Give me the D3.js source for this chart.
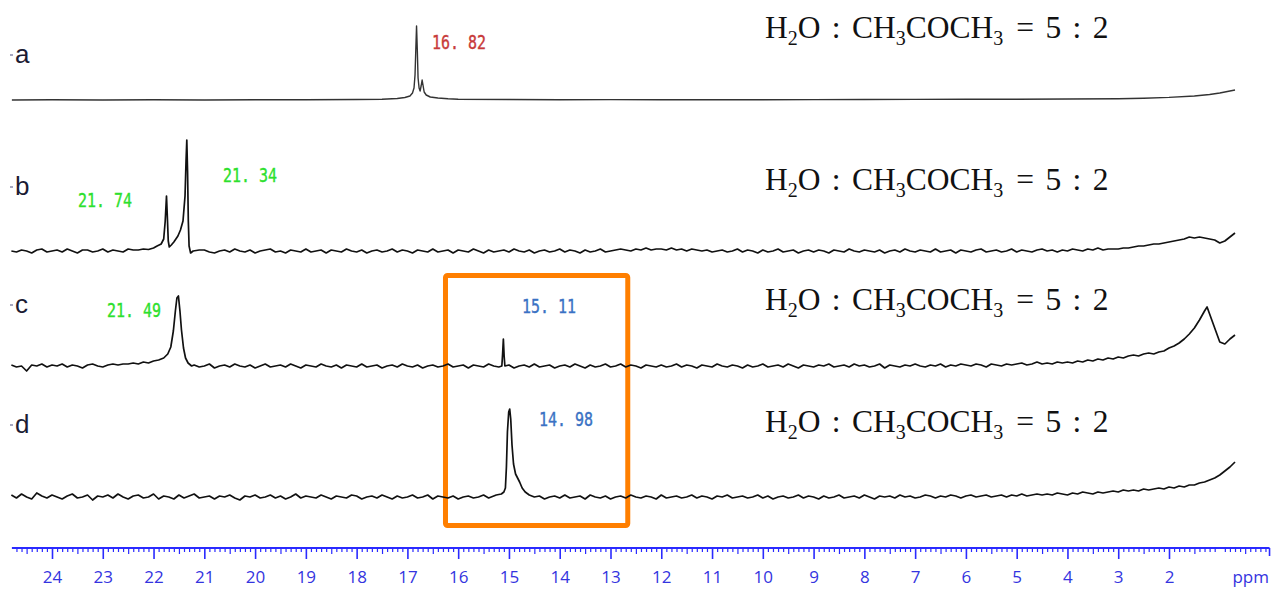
<!DOCTYPE html>
<html><head><meta charset="utf-8">
<script src="https://cdn.jsdelivr.net/npm/d3@7"></script>
<style>body{margin:0;background:#fff}svg{display:block}</style>
</head><body>
<svg id="chart" width="1274" height="590"></svg>
<script>
// ---------------- data ----------------
const traceNames = ["a", "b", "c", "d"];
const majorTicks = [24,23,22,21,20,19,18,17,16,15,14,13,12,11,10,9,8,7,6,5,4,3,2];
const unitLabel = "ppm";
const highlightRange = [16.25, 12.66];
const peakLabelsA = [16.82];
const peakLabelsB = [21.74, 21.34];
const peakLabelsC = [21.49, 15.11];
const peakLabelsD = [14.98];

const specA = [[24.79,0],[24,0.3],[23,0],[22,0.2],[21,0],[20,0.3],[19,0.2],[18,0.5],[17.5,0.8],[17.2,1.5],[17.05,2.5],[16.95,4],[16.9,7],[16.87,12],[16.85,25],[16.835,50],[16.82,74],[16.805,50],[16.79,22],[16.77,12],[16.75,9],[16.73,14],[16.71,20],[16.69,14],[16.67,8],[16.63,5],[16.55,3],[16.4,2],[16.2,1.2],[16,0.8],[15,0.5],[14,0.3],[13,0.4],[12,0.2],[11,0.3],[10,0.3],[9,0.4],[8,0.5],[7,0.6],[6,0.7],[5,0.8],[4,1],[3,1.3],[2.5,1.8],[2,2.6],[1.5,4],[1.2,5.5],[1,7],[0.85,8.5],[0.7,10]];

const specB = [[24.8,0],[24.7,-1],[24.6,1],[24.5,0],[24.4,-2],[24.3,1],[24.2,2],[24.1,-1],[24.0,0],[23.9,1],[23.8,-1],[23.7,2],[23.6,0],[23.5,-2],[23.4,1],[23.3,1],[23.2,-1],[23.1,0],[23.0,2],[22.9,-1],[22.8,1],[22.7,0],[22.6,-1],[22.5,2],[22.4,1],
[22.3,1],[22.2,2],[22.1,1.5],[22.0,3],[21.93,5],[21.85,7],[21.8,12],[21.77,30],[21.745,55],[21.725,30],[21.71,10],[21.69,4],[21.65,6],[21.6,9],[21.52,15],[21.47,21],[21.42,30],[21.38,55],[21.36,90],[21.345,111],[21.33,80],[21.315,30],[21.3,5],[21.27,-2],[21.22,0],[21.1,1],
[21.0,1],[20.9,-1],[20.8,-2],[20.7,0],[20.6,1],[20.5,-1],[20.4,2],[20.3,0],[20.2,-1],[20.1,1],
[20.0,-2],[19.9,0],[19.8,1],[19.7,2],[19.6,-1],[19.5,0],[19.4,-2],[19.3,1],[19.2,0],[19.1,-1],
[19.0,2],[18.9,-1],[18.8,0],[18.7,1],[18.6,-2],[18.5,1],[18.4,0],[18.3,-1],[18.2,2],[18.1,0],
[18.0,-1],[17.9,1],[17.8,-2],[17.7,0],[17.6,1],[17.5,-1],[17.4,0],[17.3,2],[17.2,-1],[17.1,1],
[17.0,0],[16.9,-2],[16.8,1],[16.7,0],[16.6,-1],[16.5,2],[16.4,-1],[16.3,0],[16.2,1],[16.1,-2],
[16.0,1],[15.9,0],[15.8,-1],[15.7,2],[15.6,0],[15.5,-2],[15.4,1],[15.3,-1],[15.2,0],[15.1,1],
[15.0,-1],[14.9,2],[14.8,0],[14.7,-1],[14.6,1],[14.5,-2],[14.4,0],[14.3,1],[14.2,-1],[14.1,0],
[14.0,2],[13.9,-1],[13.8,1],[13.7,0],[13.6,-2],[13.5,1],[13.4,-1],[13.3,0],[13.2,2],[13.1,-1],
[13.0,0],[12.9,1],[12.8,2],[12.7,1],[12.6,0],[12.5,2],[12.4,1],[12.3,3],[12.2,1],[12.1,2],
[12.0,2],[11.9,1],[11.8,3],[11.7,1],[11.6,2],[11.5,0],[11.4,2],[11.3,1],[11.2,0],[11.1,1],
[11.0,-1],[10.9,0],[10.8,1],[10.7,-1],[10.6,0],[10.5,2],[10.4,-1],[10.3,1],[10.2,0],[10.1,-2],
[10.0,1],[9.9,-1],[9.8,0],[9.7,2],[9.6,-1],[9.5,0],[9.4,1],[9.3,-2],[9.2,0],[9.1,1],
[9.0,-1],[8.9,1],[8.8,0],[8.7,-2],[8.6,1],[8.5,0],[8.4,-1],[8.3,2],[8.2,0],[8.1,-1],
[8.0,1],[7.9,0],[7.8,-1],[7.7,1],[7.6,-2],[7.5,0],[7.4,1],[7.3,-1],[7.2,2],[7.1,0],
[7.0,-1],[6.9,1],[6.8,0],[6.7,-1],[6.6,2],[6.5,-1],[6.4,0],[6.3,1],[6.2,-2],[6.1,1],
[6.0,0],[5.9,-1],[5.8,1],[5.7,2],[5.6,-1],[5.5,0],[5.4,1],[5.3,-1],[5.2,0],[5.1,2],
[5.0,-1],[4.9,1],[4.8,0],[4.7,-1],[4.6,1],[4.5,2],[4.4,0],[4.3,1],[4.2,-1],[4.1,1],
[4.0,0],[3.9,2],[3.8,1],[3.7,0],[3.6,2],[3.5,1],[3.4,3],[3.3,1],[3.2,2],[3.1,2],
[3.0,2],[2.9,3],[2.8,3],[2.7,4],[2.6,5],[2.5,5],[2.4,6],[2.3,7],[2.2,7],[2.1,8],
[2.0,9],[1.9,10],[1.8,11],[1.7,12],[1.6,14],[1.5,13],[1.4,14],[1.3,13],[1.2,12],[1.1,11],
[1.0,8],[0.9,10],[0.8,14],[0.7,18]];

const specC = [[24.8,1],[24.7,-1],[24.6,0],[24.5,-5],[24.4,1],[24.3,0],[24.2,2],[24.1,-1],[24.0,1],[23.9,0],[23.8,2],[23.7,-1],[23.6,1],[23.5,0],[23.4,-2],[23.3,1],[23.2,2],[23.1,0],[23.0,-1],[22.9,1],[22.8,2],[22.7,1],[22.6,2],
[22.5,2],[22.4,3],[22.3,2],[22.2,4],[22.1,3],[22.0,5],[21.9,6],[21.8,8],[21.72,12],[21.66,19],[21.61,35],[21.57,55],[21.54,68],[21.51,70],[21.48,55],[21.45,36],[21.41,18],[21.37,8],[21.32,3],[21.25,0],
[21.2,1],[21.1,-1],[21.0,0],[20.9,2],[20.8,-2],[20.7,0],[20.6,1],[20.5,-1],[20.4,2],[20.3,0],
[20.2,-1],[20.1,1],[20.0,-2],[19.9,0],[19.8,2],[19.7,-1],[19.6,0],[19.5,1],[19.4,-1],[19.3,2],
[19.2,0],[19.1,-2],[19.0,1],[18.9,0],[18.8,-1],[18.7,2],[18.6,0],[18.5,-1],[18.4,1],[18.3,-2],
[18.2,1],[18.1,0],[18.0,-1],[17.9,2],[17.8,-1],[17.7,0],[17.6,1],[17.5,-2],[17.4,0],[17.3,1],
[17.2,-1],[17.1,2],[17.0,0],[16.9,-1],[16.8,1],[16.7,-2],[16.6,0],[16.5,1],[16.4,-1],[16.3,0],
[16.2,2],[16.1,-1],[16.0,0],[15.9,1],[15.8,-2],[15.7,1],[15.6,0],[15.5,-1],[15.4,2],[15.3,0],
[15.2,-1],[15.14,0],[15.125,12],[15.11,27],[15.095,10],[15.08,0],
[15.0,1],[14.9,-2],[14.8,0],[14.7,1],[14.6,-1],[14.5,2],[14.4,-1],[14.3,0],[14.2,1],[14.1,-2],
[14.0,0],[13.9,1],[13.8,-1],[13.7,2],[13.6,0],[13.5,-2],[13.4,1],[13.3,-1],[13.2,0],[13.1,2],
[13.0,-1],[12.9,0],[12.8,2],[12.7,-1],[12.6,1],[12.5,0],[12.4,-2],[12.3,1],[12.2,0],[12.1,-1],
[12.0,1],[11.9,-1],[11.8,0],[11.7,2],[11.6,-1],[11.5,1],[11.4,0],[11.3,-2],[11.2,1],[11.1,0],
[11.0,-1],[10.9,2],[10.8,0],[10.7,-1],[10.6,1],[10.5,0],[10.4,-2],[10.3,1],[10.2,-1],[10.1,0],
[10.0,2],[9.9,-1],[9.8,0],[9.7,1],[9.6,-1],[9.5,2],[9.4,0],[9.3,-2],[9.2,1],[9.1,0],
[9.0,-1],[8.9,1],[8.8,0],[8.7,2],[8.6,-1],[8.5,0],[8.4,1],[8.3,-1],[8.2,2],[8.1,0],
[8.0,1],[7.9,-1],[7.8,0],[7.7,2],[7.6,-2],[7.5,1],[7.4,0],[7.3,-1],[7.2,1],[7.1,0],
[7.0,2],[6.9,0],[6.8,-1],[6.7,1],[6.6,0],[6.5,2],[6.4,-1],[6.3,1],[6.2,0],[6.1,2],
[6.0,1],[5.9,0],[5.8,2],[5.7,1],[5.6,-1],[5.5,2],[5.4,1],[5.3,0],[5.2,2],[5.1,1],
[5.0,2],[4.9,3],[4.8,1],[4.7,2],[4.6,4],[4.5,2],[4.4,3],[4.3,2],[4.2,4],[4.1,3],
[4.0,4],[3.9,3],[3.8,5],[3.7,4],[3.6,6],[3.5,5],[3.4,7],[3.3,6],[3.2,8],[3.1,7],
[3.0,9],[2.9,8],[2.8,10],[2.7,11],[2.6,10],[2.5,12],[2.4,13],[2.3,12],[2.2,14],[2.1,15],
[2.0,18],[1.9,20],[1.8,23],[1.7,27],[1.6,32],[1.5,38],[1.4,46],[1.3,55],[1.25,59],[1.2,52],[1.1,38],
[1.0,24],[0.9,22],[0.8,27],[0.7,31]];

const specD = [[24.8,2],[24.7,-1],[24.6,3],[24.5,0],[24.4,-2],[24.3,4],[24.2,1],[24.1,-1],[24.0,2],[23.9,0],
[23.8,-2],[23.7,1],[23.6,3],[23.5,-1],[23.4,0],[23.3,2],[23.2,-3],[23.1,1],[23.0,0],[22.9,2],
[22.8,-1],[22.7,3],[22.6,0],[22.5,-2],[22.4,1],[22.3,2],[22.2,-1],[22.1,0],[22.0,3],[21.9,-2],
[21.8,1],[21.7,0],[21.6,-2],[21.5,2],[21.4,-1],[21.3,1],[21.2,3],[21.1,-1],[21.0,0],[20.9,1],
[20.8,-2],[20.7,1],[20.6,0],[20.5,2],[20.4,-1],[20.3,-3],[20.2,1],[20.1,0],[20.0,2],[19.9,-1],
[19.8,0],[19.7,2],[19.6,-1],[19.5,1],[19.4,-2],[19.3,0],[19.2,3],[19.1,-1],[19.0,1],[18.9,0],
[18.8,-1],[18.7,2],[18.6,0],[18.5,-2],[18.4,1],[18.3,0],[18.2,-1],[18.1,2],[18.0,1],[17.9,-2],
[17.8,0],[17.7,1],[17.6,-1],[17.5,2],[17.4,0],[17.3,-2],[17.2,1],[17.1,-1],[17.0,0],[16.9,2],
[16.8,-1],[16.7,0],[16.6,2],[16.5,-2],[16.4,1],[16.3,0],[16.2,-1],[16.1,1],[16.0,-2],[15.9,0],
[15.8,1],[15.7,-1],[15.6,0],[15.5,2],[15.4,-1],[15.3,1],
[15.25,2],[15.15,3],[15.1,5],[15.07,9],[15.05,30],[15.03,65],[15.005,85],[14.985,88],[14.965,78],[14.94,52],[14.91,33],[14.87,23],[14.83,19],[14.79,15],[14.74,9],[14.68,5],[14.6,2],[14.5,0],
[14.4,1],[14.3,-2],[14.2,0],[14.1,1],[14.0,-1],[13.9,2],[13.8,-1],[13.7,0],[13.6,1],[13.5,-2],
[13.4,2],[13.3,0],[13.2,-1],[13.1,1],[13.0,-2],[12.9,0],[12.8,1],[12.7,-1],[12.6,2],[12.5,0],
[12.4,-1],[12.3,1],[12.2,0],[12.1,-2],[12.0,2],[11.9,-1],[11.8,0],[11.7,1],[11.6,-1],[11.5,0],
[11.4,2],[11.3,-1],[11.2,1],[11.1,0],[11.0,-2],[10.9,1],[10.8,0],[10.7,2],[10.6,-1],[10.5,0],
[10.4,1],[10.3,-1],[10.2,0],[10.1,2],[10.0,-1],[9.9,1],[9.8,-2],[9.7,0],[9.6,1],[9.5,-1],
[9.4,0],[9.3,2],[9.2,-1],[9.1,1],[9.0,0],[8.9,-2],[8.8,1],[8.7,-1],[8.6,0],[8.5,2],
[8.4,-1],[8.3,0],[8.2,1],[8.1,-1],[8.0,2],[7.9,0],[7.8,-2],[7.7,1],[7.6,0],[7.5,1],
[7.4,-1],[7.3,2],[7.2,0],[7.1,1],[7.0,-1],[6.9,0],[6.8,2],[6.7,1],[6.6,-1],[6.5,1],
[6.4,0],[6.3,2],[6.2,1],[6.1,-1],[6.0,1],[5.9,2],[5.8,0],[5.7,1],[5.6,2],[5.5,0],
[5.4,1],[5.3,2],[5.2,0],[5.1,2],[5.0,1],[4.9,3],[4.8,1],[4.7,2],[4.6,3],[4.5,2],
[4.4,3],[4.3,2],[4.2,4],[4.1,3],[4.0,2],[3.9,4],[3.8,3],[3.7,5],[3.6,4],[3.5,3],
[3.4,5],[3.3,4],[3.2,5],[3.1,6],[3.0,5],[2.9,7],[2.8,6],[2.7,7],[2.6,6],[2.5,8],
[2.4,7],[2.3,8],[2.2,9],[2.1,8],[2.0,10],[1.9,9],[1.8,11],[1.7,10],[1.6,12],[1.5,12],
[1.4,14],[1.3,15],[1.2,17],[1.1,19],[1.0,22],[0.9,26],[0.8,30],[0.7,35]];

const spectra = [specA, specB, specC, specD];
const peakLabels = [peakLabelsA, peakLabelsB, peakLabelsC, peakLabelsD];

// ---------------- layout ----------------
const svg = d3.select("#chart");
const x = d3.scaleLinear().domain([24, 2]).range([52, 1169]);
const baselines = [100, 251, 366, 497];
const letterBase = [63, 195, 313, 433];
const ratioBase = [38, 190, 310, 432];
const peakColors = [["#c83a3a"], ["#2de02d", "#2de02d"], ["#2de02d", "#3a72c4"], ["#3a72c4"]];
// label positions (centre x in px, baseline y)
const peakLabelPos = [[[459, 49]], [[105, 207], [250, 182]], [[134, 317], [549, 313]], [[566, 426]]];

// highlight box
svg.append("rect")
  .attr("x", x(highlightRange[0])).attr("y", 275.5)
  .attr("width", x(highlightRange[1]) - x(highlightRange[0])).attr("height", 250)
  .attr("rx", 2).attr("fill", "none").attr("stroke", "#ff7f00").attr("stroke-width", 5);

spectra.forEach((spec, i) => {
  const y = d3.scaleLinear().domain([0, 100]).range([baselines[i], baselines[i] - 100]);
  const line = d3.line().x(d => x(d[0])).y(d => y(d[1]));
  svg.append("path").datum(spec).attr("d", line)
    .attr("fill", "none").attr("stroke", i === 0 ? "#333" : "#111")
    .attr("stroke-width", i === 0 ? 1.4 : 1.7).attr("stroke-linejoin", "round");

  svg.append("line").attr("x1", 10).attr("x2", 13)
    .attr("y1", letterBase[i] - 8).attr("y2", letterBase[i] - 8)
    .attr("stroke", "#8888aa").attr("stroke-width", 1.5);
  svg.append("text").attr("x", 15).attr("y", letterBase[i])
    .attr("font-family", "Liberation Sans, Arial, sans-serif").attr("font-size", 26)
    .attr("fill", "#1b1b33").text(traceNames[i]);

  const t = svg.append("text").attr("x", 765).attr("y", ratioBase[i])
    .attr("font-family", "Liberation Serif, Times New Roman, serif").attr("font-size", 31.5)
    .attr("word-spacing", 3.5).attr("fill", "#111");
  t.append("tspan").text("H");
  t.append("tspan").attr("font-size", 20).attr("dy", 7).text("2");
  t.append("tspan").attr("dy", -7).text("O : CH");
  t.append("tspan").attr("font-size", 20).attr("dy", 7).text("3");
  t.append("tspan").attr("dy", -7).text("COCH");
  t.append("tspan").attr("font-size", 20).attr("dy", 7).text("3");
  t.append("tspan").attr("dy", -7).attr("dx", 13).text("= 5 : 2");

  peakLabels[i].forEach((v, j) => {
    svg.append("text")
      .attr("x", peakLabelPos[i][j][0]).attr("y", peakLabelPos[i][j][1])
      .attr("text-anchor", "middle")
      .attr("font-family", "DejaVu Sans Mono, monospace").attr("font-size", 20)
      .attr("textLength", 54).attr("lengthAdjust", "spacingAndGlyphs")
      .attr("fill", peakColors[i][j]).attr("stroke", peakColors[i][j]).attr("stroke-width", 0.4)
      .text(d3.format(".2f")(v).replace(".", ". "));
  });
});

// axis
const axisY = 548;
const axisBlue = "#2a2aff";
svg.append("line").attr("x1", x(24.79)).attr("x2", x(0.02)).attr("y1", axisY).attr("y2", axisY)
  .attr("stroke", axisBlue).attr("stroke-width", 2);
const minorTicks = d3.range(247, 0, -1).map(k => k / 10).filter(v => Math.abs(v - Math.round(v)) > 0.01);
const gMinor = svg.append("g").attr("transform", `translate(0,${axisY})`)
  .call(d3.axisBottom(x).tickValues(minorTicks).tickFormat("").tickSizeOuter(0)
    .tickSize(4));
gMinor.selectAll(".tick line").attr("stroke", axisBlue).attr("stroke-width", 1.2)
  .attr("y2", d => Math.abs(d % 1 - 0.5) < 0.01 ? 6 : 4);
gMinor.select(".domain").remove();
const gMajor = svg.append("g").attr("transform", `translate(0,${axisY})`)
  .call(d3.axisBottom(x).tickValues(majorTicks).tickFormat(d3.format("d")).tickSize(11).tickPadding(12));
gMajor.select(".domain").remove();
gMajor.selectAll(".tick line").attr("stroke", axisBlue).attr("stroke-width", 1.6);
gMajor.selectAll(".tick text").attr("fill", "#3434e0")
  .attr("font-family", "Open Sans, DejaVu Sans, sans-serif").attr("font-size", 17);
svg.append("line").attr("x1", x(0.02)).attr("x2", x(0.02)).attr("y1", axisY).attr("y2", axisY + 8)
  .attr("stroke", axisBlue).attr("stroke-width", 1.6);
svg.append("text").attr("x", 1269).attr("y", 583).attr("text-anchor", "end")
  .attr("fill", "#3434e0").attr("font-family", "Open Sans, DejaVu Sans, sans-serif").attr("font-size", 17)
  .text(unitLabel);
</script>
</body></html>
